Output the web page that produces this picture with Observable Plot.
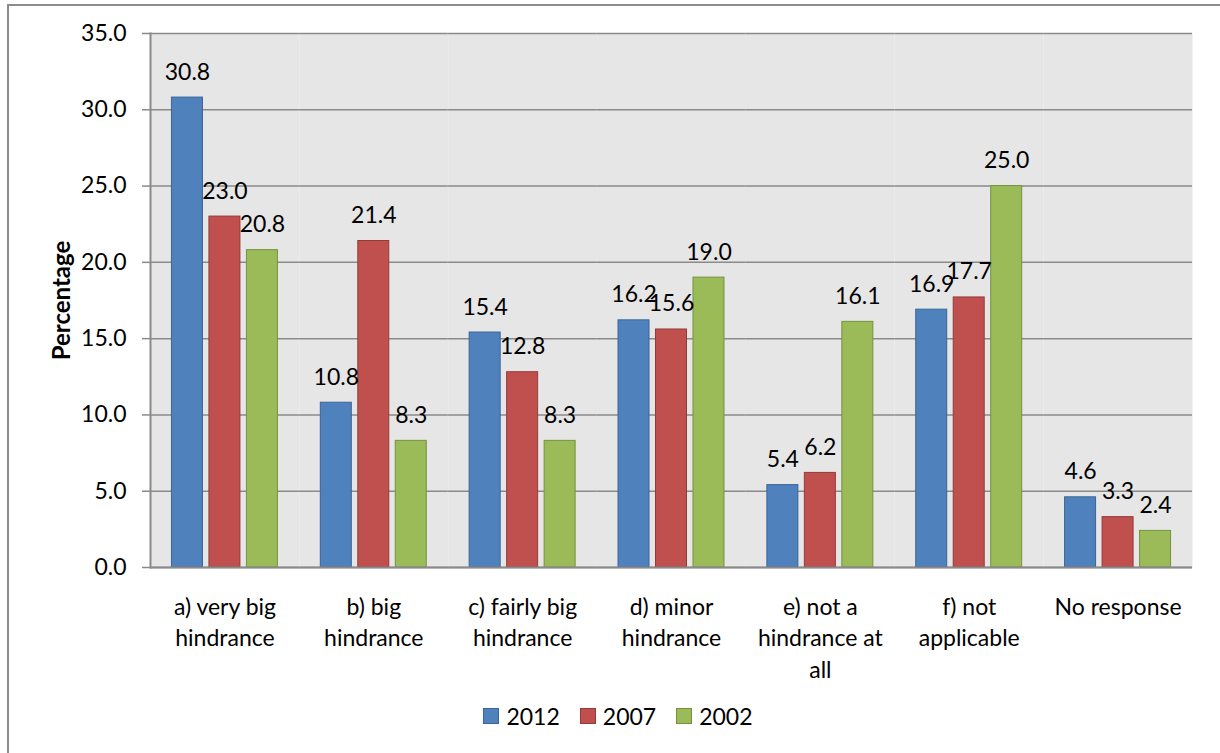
<!DOCTYPE html>
<html>
<head>
<meta charset="utf-8">
<script src="https://cdn.jsdelivr.net/npm/d3@7"></script>
<script src="https://cdn.jsdelivr.net/npm/@observablehq/plot@0.6"></script>
<style>
  html, body { margin: 0; padding: 0; background: #fff; }
  body { width: 1220px; height: 753px; overflow: hidden; position: relative; font-family: Lato, "Open Sans", sans-serif; }
  #border { position: absolute; left: 7px; top: 4px; width: 1400px; height: 1000px;
            border-left: 2px solid #8c8c8c; border-top: 2px solid #8c8c8c; }
  #chart { position: absolute; left: 0; top: 0; }
  #legend { position: absolute; left: 8px; top: 702px; width: 1220px; display: flex;
            justify-content: center; align-items: center; font-size: 23px; color: #000; }
  .item { display: flex; align-items: center; margin: 0 10px; }
  .sw { width: 14px; height: 14px; margin-right: 7px; border: 1px solid; }
</style>
</head>
<body>
<div id="border"></div>
<div id="chart"></div>
<div id="legend"></div>
<script>
// ---- data ----
const categories = ["a", "b", "c", "d", "e", "f", "nr"];
const categoryLabels = [
  "a) very big\nhindrance",
  "b) big\nhindrance",
  "c) fairly big\nhindrance",
  "d) minor\nhindrance",
  "e) not a\nhindrance at\nall",
  "f) not\napplicable",
  "No response"
];
const years = ["2012", "2007", "2002"];
const values2012 = [30.8, 10.8, 15.4, 16.2, 5.4, 16.9, 4.6];
const values2007 = [23.0, 21.4, 12.8, 15.6, 6.2, 17.7, 3.3];
const values2002 = [20.8, 8.3, 8.3, 19.0, 16.1, 25.0, 2.4];
const yTicks = [0, 5, 10, 15, 20, 25, 30, 35];
const axisTitle = "Percentage";

const fills = ["#4F81BD", "#C0504D", "#9BBB59"];
const strokes = ["#3A6597", "#943B39", "#76923F"];

// ---- table ----
const series = [values2012, values2007, values2002];
const rows = years.flatMap((yr, s) =>
  categories.map((c, i) => ({category: c, year: yr, value: series[s][i]})));
const labelOf = new Map(categories.map((c, i) => [c, categoryLabels[i]]));

const gridColor = "#8a8a8a";

const chart = Plot.plot({
  width: 1220,
  height: 690,
  marginLeft: 150,
  marginRight: 28,
  marginTop: 33,
  marginBottom: 123,
  style: {fontFamily: "Lato, 'Open Sans', sans-serif", fontSize: "23px", color: "#000", background: "transparent", overflow: "visible"},
  fx: {domain: categories, padding: 0, round: false, axis: null, label: null},
  x: {domain: years, paddingInner: 0.173, paddingOuter: 0.572, round: false, axis: null},
  y: {domain: [0, 35], axis: null},
  marks: [
    Plot.frame({fill: "#e6e6e6", stroke: null}),
    Plot.gridY(yTicks, {stroke: gridColor, strokeOpacity: 1, strokeWidth: 1.5}),
    Plot.frame({anchor: "left", fx: () => categories[0], stroke: gridColor, strokeWidth: 2}),
    Plot.axisY(yTicks, {anchor: "left", tickSize: 8, tickPadding: 16, tickFormat: d => d.toFixed(1),
      stroke: gridColor, strokeWidth: 1.5, fill: "#000", fontSize: 23, label: null}),
    ...years.map((yr, s) => Plot.barY(rows.filter(d => d.year === yr), {
      fx: "category", x: "year", y: "value", fill: fills[s], stroke: strokes[s], strokeWidth: 1
    })),
    Plot.ruleY([0], {stroke: gridColor, strokeWidth: 2}),
    Plot.text(rows, {fx: "category", x: "year", y: "value", text: d => d.value.toFixed(1),
      dy: -18, lineAnchor: "bottom", fontSize: 23, fill: "#000"}),
    Plot.text(categories, {fx: d => d, x: null, y: null, text: d => labelOf.get(d),
      frameAnchor: "bottom", lineAnchor: "top", dy: 25, lineHeight: 1.37, fontSize: 23, fill: "#000"}),
    Plot.text([axisTitle], {fx: () => categories[0], x: null, y: null, text: d => d,
      frameAnchor: "left", textAnchor: "middle", lineAnchor: "middle", rotate: -90, dx: -88,
      fontWeight: "bold", fontSize: 24, fill: "#000"})
  ]
});
document.getElementById("chart").appendChild(chart);

// ---- legend ----
const legend = document.getElementById("legend");
years.forEach((yr, s) => {
  const item = document.createElement("div");
  item.className = "item";
  const sw = document.createElement("span");
  sw.className = "sw";
  sw.style.background = fills[s];
  sw.style.borderColor = strokes[s];
  const t = document.createElement("span");
  t.textContent = yr;
  item.appendChild(sw);
  item.appendChild(t);
  legend.appendChild(item);
});
</script>
</body>
</html>
